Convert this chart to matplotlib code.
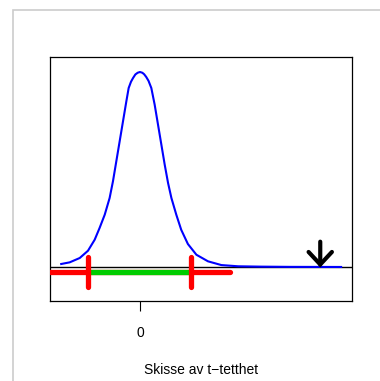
import matplotlib
matplotlib.use('Agg')
import matplotlib.pyplot as plt
from matplotlib.patches import Rectangle

plt.rcParams['font.family'] = ['Liberation Sans', 'DejaVu Sans']

# t-density sketch, points
curve_x = [-3.06, -2.73, -2.34, -2.02, -1.76, -1.57, -1.37, -1.18, -1.05, -0.92,
           -0.79, -0.66, -0.53, -0.44, -0.35, -0.27, -0.18, -0.09, 0.0,
           0.09, 0.16, 0.24, 0.33, 0.44, 0.57, 0.70, 0.83, 0.96, 1.09, 1.22,
           1.41, 1.60, 1.86, 2.19, 2.64, 3.16, 3.81, 4.66, 5.83, 7.81]
curve_y = [0.0062, 0.0096, 0.0185, 0.0334, 0.0560, 0.0800, 0.1073, 0.1415, 0.1758, 0.2168,
           0.2578, 0.2989, 0.3399, 0.3672, 0.3800, 0.3877, 0.3950, 0.3985, 0.4000,
           0.3985, 0.3955, 0.3900, 0.3820, 0.3672, 0.3329, 0.2919, 0.2509, 0.2098, 0.1723, 0.1415,
           0.1073, 0.0765, 0.0472, 0.0252, 0.0117, 0.0040, 0.0015, 0.0008, 0.0003, 0.0001]

# acceptance region and critical values
crit = [-2.0, 2.0]
band_y = -0.0103
red_left, red_right = -3.5, 3.5
crit_tick = [-0.041, 0.0205]

# observed value (arrow)
obs_x = 7.0
arrow_top = 0.0520
arrow_tip = -0.001

xlim = (-3.495, 8.233)
ylim = (-0.0697, 0.4308)

fig = plt.figure(figsize=(3.80, 3.81), dpi=100)

# light grey frame round the figure
fig.patches.append(Rectangle((13 / 380, -0.1), 1.2, 1 - 10 / 381 + 0.1,
                             transform=fig.transFigure, fill=False,
                             edgecolor='#cccccc', linewidth=1.2))

ax = fig.add_axes([50 / 380, 80 / 381, 302 / 380, 244 / 381])

ax.axhline(0, color='black', linewidth=1.0, zorder=1)
ax.plot(curve_x, curve_y, color='#0000ff', linewidth=1.5, zorder=2,
        solid_joinstyle='round')

ax.plot([red_left, red_right], [band_y, band_y], color='#ff0000',
        linewidth=3.8, solid_capstyle='round', zorder=3)
ax.plot(crit, [band_y, band_y], color='#00cc00', linewidth=3.8,
        solid_capstyle='butt', zorder=4)
for c in crit:
    ax.plot([c, c], crit_tick, color='#ff0000', linewidth=3.8,
            solid_capstyle='round', zorder=5)

ax.annotate('', xy=(obs_x, arrow_tip), xytext=(obs_x, arrow_top),
            arrowprops=dict(arrowstyle='->,head_length=0.45,head_width=0.42',
                            color='black', linewidth=3.0, mutation_scale=20,
                            shrinkA=0, shrinkB=0, capstyle='round',
                            joinstyle='miter'),
            zorder=6)

ax.set_xlim(*xlim)
ax.set_ylim(*ylim)
ax.set_xticks([0])
ax.set_xticklabels(['0'])
ax.set_yticks([])
ax.tick_params(axis='x', length=7.2, width=0.8, pad=10.5, labelsize=10)
for s in ax.spines.values():
    s.set_linewidth(0.9)
ax.set_xlabel('Skisse av t\u2212tetthet', fontsize=10, labelpad=17)

fig.savefig('out.png', dpi=100)
